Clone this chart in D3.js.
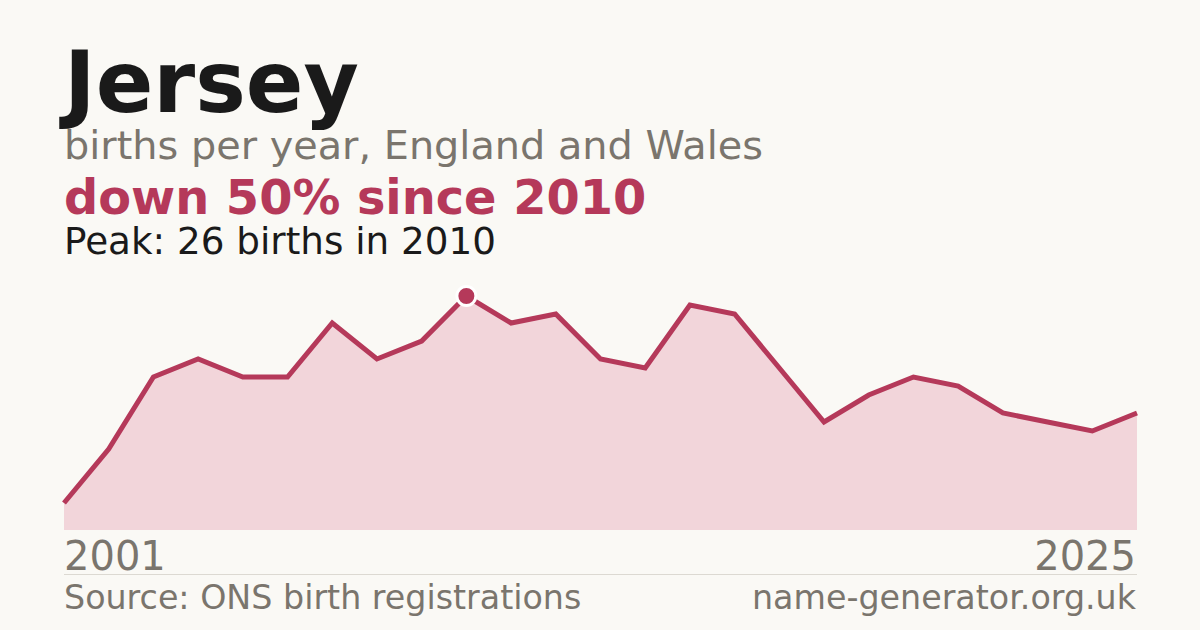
<!DOCTYPE html>
<html>
<head>
<meta charset="utf-8">
<script src="https://cdn.jsdelivr.net/npm/d3@7"></script>
<style>
  html, body { margin: 0; padding: 0; background: #faf9f5; }
  svg { display: block; font-family: "DejaVu Sans", sans-serif; }
</style>
</head>
<body>
<svg id="chart" width="1200" height="630"></svg>
<script>
const years = d3.range(2001, 2026);
const births = [3, 9, 17, 19, 17, 17, 23, 19, 21, 26, 23, 24, 19, 18, 25, 24, 18, 12, 15, 17, 16, 13, 12, 11, 13];
const title = "Jersey";
const subtitle = "births per year, England and Wales";
const headline = "down 50% since 2010";
const peakLabel = "Peak: 26 births in 2010";
const yearLabels = ["2001", "2025"];
const sourceLabel = "Source: ONS birth registrations";
const siteLabel = "name-generator.org.uk";

const width = 1200;
const height = 630;
const margins = { left: 64, right: 63, top: 296, bottom: 100 };

const red = "#b5395a";
const grey = "#7a756d";

const svg = d3.select("#chart");
svg.append("rect").attr("width", width).attr("height", height).attr("fill", "#faf9f5");

const data = years.map((y, i) => ({ year: y, count: births[i] }));

const x = d3.scaleLinear()
  .domain(d3.extent(years))
  .range([margins.left, width - margins.right]);

const y = d3.scaleLinear()
  .domain([0, d3.max(births)])
  .range([height - margins.bottom, margins.top]);

// area + line
svg.append("path")
  .datum(data)
  .attr("fill", "#f2d5da")
  .attr("d", d3.area().x((d) => x(d.year)).y0(y(0)).y1((d) => y(d.count)));

svg.append("path")
  .datum(data)
  .attr("fill", "none")
  .attr("stroke", red)
  .attr("stroke-width", 5)
  .attr("stroke-linejoin", "miter")
  .attr("d", d3.line().x((d) => x(d.year)).y((d) => y(d.count)));

// peak marker
const peak = data.reduce((a, b) => (b.count > a.count ? b : a));
svg.append("circle")
  .attr("cx", x(peak.year))
  .attr("cy", y(peak.count))
  .attr("r", 9.5)
  .attr("fill", red)
  .attr("stroke", "#ffffff")
  .attr("stroke-width", 3);

// header text
svg.append("text")
  .attr("x", 64).attr("y", 112)
  .attr("font-size", 85).attr("font-weight", "bold")
  .attr("fill", "#1a1a1a")
  .text(title);

svg.append("text")
  .attr("x", 64).attr("y", 159)
  .attr("font-size", 39.8)
  .attr("fill", grey)
  .text(subtitle);

svg.append("text")
  .attr("x", 64).attr("y", 214)
  .attr("font-size", 47.8).attr("font-weight", "bold")
  .attr("fill", red)
  .text(headline);

svg.append("text")
  .attr("x", 64).attr("y", 254)
  .attr("font-size", 37.3)
  .attr("fill", "#1a1a1a")
  .text(peakLabel);

// year labels
svg.append("text")
  .attr("x", x(years[0])).attr("y", 570)
  .attr("font-size", 40)
  .attr("fill", grey)
  .text(yearLabels[0]);

svg.append("text")
  .attr("x", x(years[years.length - 1]) - 1).attr("y", 570)
  .attr("text-anchor", "end")
  .attr("font-size", 40)
  .attr("fill", grey)
  .text(yearLabels[1]);

// divider
svg.append("line")
  .attr("x1", margins.left).attr("x2", width - margins.right)
  .attr("y1", 574.5).attr("y2", 574.5)
  .attr("stroke", "#dcd9d2").attr("stroke-width", 1);

// footer
svg.append("text")
  .attr("x", 64).attr("y", 609)
  .attr("font-size", 33.3)
  .attr("fill", grey)
  .text(sourceLabel);

svg.append("text")
  .attr("x", width - margins.right - 1).attr("y", 609)
  .attr("text-anchor", "end")
  .attr("font-size", 33.3)
  .attr("fill", grey)
  .text(siteLabel);
</script>
</body>
</html>
